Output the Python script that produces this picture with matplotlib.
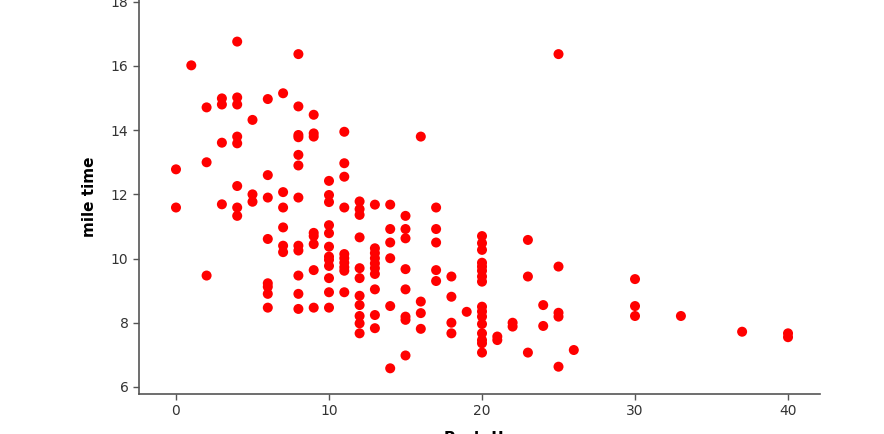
import numpy as np
import matplotlib
matplotlib.use('Agg')
import matplotlib.pyplot as plt

# push-up counts and mile times
push_ups = [
    0, 0,
    1,
    2, 2, 2,
    3, 3, 3, 3,
    4, 4, 4, 4, 4, 4, 4, 4,
    5, 5, 5,
    6, 6, 6, 6, 6, 6, 6, 6,
    7, 7, 7, 7, 7, 7,
    8, 8, 8, 8, 8, 8, 8, 8, 8, 8, 8, 8,
    9, 9, 9, 9, 9, 9, 9, 9,
    10, 10, 10, 10, 10, 10, 10, 10, 10, 10, 10, 10,
    11, 11, 11, 11, 11, 11, 11, 11, 11, 11,
    12, 12, 12, 12, 12, 12, 12, 12, 12, 12, 12,
    13, 13, 13, 13, 13, 13, 13, 13, 13, 13,
    14, 14, 14, 14, 14, 14,
    15, 15, 15, 15, 15, 15, 15, 15,
    16, 16, 16, 16,
    17, 17, 17, 17, 17,
    18, 18, 18, 18,
    19,
    20, 20, 20, 20, 20, 20, 20, 20, 20, 20, 20, 20, 20, 20, 20, 20,
    21, 21,
    22, 22,
    23, 23, 23,
    24, 24,
    25, 25, 25, 25, 25,
    26,
    30, 30, 30,
    33,
    37,
    40, 40,
]
mile_time = [
    12.78, 11.59,
    16.02,
    14.71, 13.0, 9.47,
    14.99, 14.8, 13.61, 11.69,
    16.76, 15.02, 14.8, 13.8, 13.59, 12.26, 11.59, 11.33,
    14.32, 12.0, 11.77,
    14.97, 12.6, 11.9, 10.61, 9.23, 9.12, 8.9, 8.47,
    15.15, 12.07, 11.59, 10.97, 10.4, 10.2,
    16.37, 14.74, 13.85, 13.78, 13.23, 12.9, 11.9, 10.4, 10.25, 9.47, 8.9, 8.43,
    14.48, 13.9, 13.8, 10.8, 10.7, 10.45, 9.64, 8.47,
    12.42, 11.98, 11.76, 11.04, 10.79, 10.37, 10.06, 9.96, 9.77, 9.39, 8.95, 8.47,
    13.95, 12.97, 12.55, 11.59, 10.14, 10.01, 9.87, 9.73, 9.62, 8.95,
    11.78, 11.54, 11.36, 10.66, 9.7, 9.39, 8.84, 8.55, 8.21, 7.98, 7.67,
    11.68, 10.32, 10.17, 10.01, 9.85, 9.7, 9.52, 9.04, 8.24, 7.83,
    11.68, 10.92, 10.5, 10.01, 8.52, 6.58,
    11.33, 10.92, 10.63, 9.67, 9.04, 8.19, 8.09, 6.98,
    13.8, 8.66, 8.3, 7.81,
    11.59, 10.92, 10.5, 9.64, 9.3,
    9.44, 8.81, 8.0, 7.67,
    8.34,
    10.7, 10.48, 10.27, 9.87, 9.75, 9.62, 9.44, 9.28,
    8.5, 8.35, 8.19, 7.96, 7.67, 7.46, 7.36, 7.07,
    7.57, 7.46,
    8.0, 7.88,
    10.58, 9.44, 7.07,
    8.55, 7.9,
    16.37, 9.75, 8.31, 8.19, 6.63,
    7.15,
    9.36, 8.52, 8.21,
    8.21,
    7.72,
    7.67, 7.55,
]

x_ticks = [0, 10, 20, 30, 40]
y_ticks = [6, 8, 10, 12, 14, 16, 18]

fig = plt.figure(figsize=(8.84, 4.34), dpi=100)
ax = fig.add_axes([0.1572, 0.0922, 0.7704, 0.9078])

ax.scatter(push_ups, mile_time, s=52, color='#ff0000', edgecolors='none', zorder=3)

ax.set_xlim(-2.42, 42.09)
ax.set_ylim(5.78, 18.056)
ax.set_xticks(x_ticks)
ax.set_yticks(y_ticks)

for side in ['top', 'right']:
    ax.spines[side].set_visible(False)
for side in ['left', 'bottom']:
    ax.spines[side].set_color('#555555')
    ax.spines[side].set_linewidth(1.2)

ax.tick_params(direction='out', length=4.5, width=1, color='#555555',
               labelsize=10, labelcolor='#333333', pad=3)

ax.set_xlabel('Push-Up', fontsize=11, fontweight='bold', labelpad=9)
ax.set_ylabel('mile time', fontsize=11, fontweight='bold', labelpad=10)

plt.savefig('out.png', dpi=100)
plt.close()
